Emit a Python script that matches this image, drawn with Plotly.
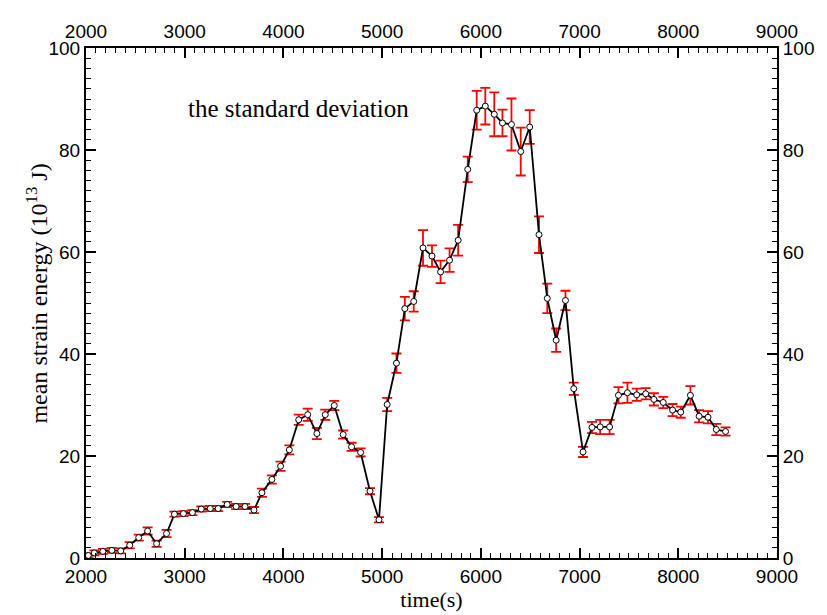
import plotly.graph_objects as go

# mean strain energy per time step (10^13 J) with its standard deviation
time_s = [2023, 2084, 2171, 2262, 2352, 2443, 2534, 2624, 2715, 2816,
          2896, 2987, 3078, 3168, 3259, 3339, 3430, 3521, 3611, 3702,
          3782, 3883, 3971, 4060, 4155, 4246, 4339, 4424, 4515, 4605,
          4690, 4782, 4877, 4968, 5051, 5145, 5230, 5320, 5414, 5505,
          5592, 5683, 5770, 5867, 5958, 6045, 6136, 6219, 6310, 6404,
          6495, 6589, 6673, 6763, 6857, 6941, 7035, 7126, 7209, 7304,
          7394, 7485, 7579, 7670, 7753, 7848, 7942, 8025, 8123, 8211,
          8301, 8385, 8479]
energy = [0.5, 1.0, 1.3, 1.5, 1.4, 2.5, 4.0, 5.3, 2.8, 4.8,
          8.6, 8.7, 8.9, 9.6, 9.7, 9.7, 10.5, 10.1, 10.1, 9.4,
          12.8, 15.4, 18.0, 21.2, 27.1, 28.1, 24.4, 28.1, 29.9, 24.2,
          21.8, 20.7, 13.1, 7.5, 30.1, 38.2, 48.9, 50.3, 60.8, 59.2,
          56.1, 58.4, 62.3, 76.2, 87.8, 88.6, 87.0, 85.3, 85.0, 79.7,
          84.5, 63.4, 50.9, 42.7, 50.5, 33.2, 20.8, 25.6, 25.7, 25.7,
          31.9, 32.4, 32.0, 32.2, 31.1, 30.5, 29.0, 28.6, 31.9, 27.8,
          27.6, 25.2, 24.8]
std_dev = [0.4, 0.5, 0.5, 0.5, 0.5, 0.6, 0.6, 0.7, 0.6, 0.7,
           0.5, 0.5, 0.5, 0.5, 0.5, 0.5, 0.5, 0.5, 0.5, 0.6,
           0.8, 0.8, 0.9, 0.9, 1.0, 1.2, 1.1, 1.0, 0.9, 0.8,
           0.8, 0.8, 0.6, 0.5, 1.3, 1.9, 2.3, 2.0, 3.5, 2.1,
           2.2, 2.3, 3.0, 2.5, 3.8, 3.6, 4.3, 2.6, 5.1, 4.7,
           3.3, 3.6, 2.9, 2.3, 1.9, 1.2, 1.0, 1.1, 1.4, 1.4,
           1.6, 2.0, 1.2, 1.1, 1.2, 1.1, 1.2, 1.1, 1.8, 1.2,
           1.2, 1.1, 0.8]

x_range = [2000, 9000]
y_range = [0, 100]

serif = "Liberation Serif, Times New Roman, serif"
tick_font = dict(family="Liberation Sans, Arial, sans-serif", size=19, color="black")

fig = go.Figure()

fig.add_trace(go.Scatter(
    x=time_s, y=energy,
    mode="lines+markers",
    line=dict(color="black", width=1.8),
    marker=dict(symbol="circle", size=6, color="white",
                line=dict(color="black", width=1)),
    error_y=dict(type="data", array=std_dev, visible=True,
                 color="red", thickness=1.8, width=5),
    showlegend=False,
))

# companion trace so the top and right axes get drawn
fig.add_trace(go.Scatter(
    x=time_s, y=energy, xaxis="x2", yaxis="y2",
    mode="markers", marker=dict(opacity=0),
    hoverinfo="skip", showlegend=False,
))

common_axis = dict(
    showline=True, linecolor="black", linewidth=2,
    ticks="inside", ticklen=10, tickwidth=1.5, tickcolor="black",
    showgrid=False, zeroline=False, tickfont=tick_font,
)
minor_x = dict(dtick=100, ticks="inside", ticklen=5, tickwidth=1.2, tickcolor="black")
minor_y = dict(dtick=2, ticks="inside", ticklen=5, tickwidth=1.2, tickcolor="black")

fig.update_layout(
    width=827, height=615,
    margin=dict(l=86, r=46, t=48, b=57),
    paper_bgcolor="white", plot_bgcolor="white",
    xaxis=dict(range=x_range, dtick=1000, minor=minor_x,
               title=dict(text="time(s)",
                          font=dict(family=serif, size=22, color="black"),
                          standoff=0),
               **common_axis),
    xaxis2=dict(range=x_range, dtick=1000, overlaying="x", side="top",
                minor=minor_x, **common_axis),
    yaxis=dict(range=y_range, dtick=20, minor=minor_y, **common_axis),
    yaxis2=dict(range=y_range, dtick=20, overlaying="y", side="right",
                minor=minor_y, **common_axis),
    annotations=[
        dict(x=-0.0705, y=0.519, xref="paper", yref="paper",
             xanchor="center", yanchor="middle", textangle=-90,
             text="mean strain energy (10<sup>13</sup> J)", showarrow=False,
             font=dict(family=serif, size=24, color="black")),
        dict(x=4155, y=88.2, xref="x", yref="y",
             text="the standard deviation", showarrow=False,
             font=dict(family=serif, size=25, color="black")),
    ],
)

fig.write_html("out.html")
